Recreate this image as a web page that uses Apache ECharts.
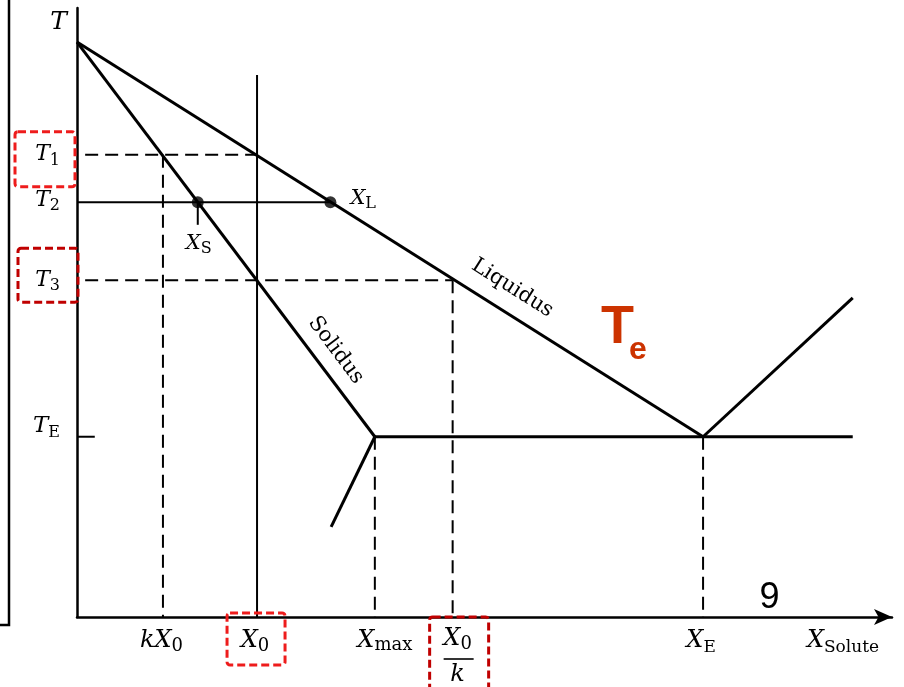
<!DOCTYPE html>
<html>
<head>
<meta charset="utf-8">
<script src="https://cdn.jsdelivr.net/npm/echarts@6/dist/echarts.min.js"></script>
<style>
  html, body { margin: 0; padding: 0; background: #ffffff; }
  #chart { width: 904px; height: 687px; }
</style>
</head>
<body>
<div id="chart"></div>
<script>
// Binary eutectic phase diagram: temperature vs. solute concentration (arbitrary units).

// Marked compositions on the X axis
const compNames = ['kX0', 'X0', 'Xmax', 'X0/k', 'XE'];
const compValues = [11.6, 24.3, 40.2, 50.7, 84.5];
// Marked temperatures on the T axis
const tempNames = ['T1', 'T2', 'T3', 'TE'];
const tempValues = [75.9, 68.1, 55.3, 29.6];
// Melting point of the pure solvent
const meltingPoint = [94.4];
// Liquid and solid compositions on the tie line at T2
const tieCompositions = [16.3, 34.2];
// Right-hand end of the diagram: composition, liquidus temperature there
const rightEnd = [104.7, 52.4];
// Lower end of the solvus below Xmax
const solvusEnd = [34.3, 14.8];
// Top of the alloy (X0) line, bottom of the XS marker, length of the TE tick, start of guides
const alloyTop = [89.0];
const solidMarkBottom = [64.4];
const tickLength = [2.4];
const guideStart = [1.1];

const [kX0, X0, Xmax, X0k, XE] = compValues;
const [T1, T2, T3, TE] = tempValues;
const Tm = meltingPoint[0];
const [XS, XL] = tieCompositions;

const INK = '#000000';
const RED = '#ee1c1c';
const DARK_RED = '#c00000';
const TE_COLOR = '#cc3300';
const SERIF = '"DejaVu Serif", "Liberation Serif", serif';

function seg(data, width, dash) {
  return {
    type: 'line', data: data, symbol: 'none', silent: true, clip: false,
    lineStyle: { color: INK, width: width, type: dash ? [13, 7] : 'solid', cap: 'butt' },
    z: 3
  };
}

const chart = echarts.init(document.getElementById('chart'), null, { renderer: 'canvas' });

chart.setOption({
  animation: false,
  backgroundColor: '#ffffff',
  grid: { left: 77, right: 12, top: 8, bottom: 70, containLabel: false },
  xAxis: {
    type: 'value', min: 0, max: 110,
    axisLine: { show: true, onZero: false, symbol: ['none', 'arrow'], symbolSize: [12, 18],
      lineStyle: { color: INK, width: 2.5 } },
    axisTick: { show: false }, axisLabel: { show: false }, splitLine: { show: false }
  },
  yAxis: {
    type: 'value', min: 0, max: 100,
    axisLine: { show: true, onZero: false, lineStyle: { color: INK, width: 2.5 } },
    axisTick: { show: false }, axisLabel: { show: false }, splitLine: { show: false }
  },
  series: [
    // phase boundaries
    seg([[0, Tm], [XE, TE]], 3),                       // liquidus
    seg([[0, Tm], [Xmax, TE]], 3),                     // solidus
    seg([[Xmax, TE], [rightEnd[0], TE]], 3),           // eutectic isotherm
    seg([[XE, TE], rightEnd], 3),                      // liquidus of the second phase
    seg([[Xmax, TE], solvusEnd], 3),                   // solvus
    // alloy line, tie line and markers
    seg([[X0, 0], [X0, alloyTop[0]]], 2),
    seg([[0, T2], [XL, T2]], 2),
    seg([[XS, T2], [XS, solidMarkBottom[0]]], 2),
    seg([[0, TE], [tickLength[0], TE]], 2),
    // dashed guides
    seg([[guideStart[0], T1], [X0, T1]], 2, true),
    seg([[kX0, T1], [kX0, 0]], 2, true),
    seg([[guideStart[0], T3], [X0k, T3]], 2, true),
    seg([[X0k, T3], [X0k, 0]], 2, true),
    seg([[Xmax, TE], [Xmax, 0]], 2, true),
    seg([[XE, TE], [XE, 0]], 2, true),
    {
      type: 'scatter', silent: true, symbol: 'circle', symbolSize: 12,
      itemStyle: { color: INK }, z: 5,
      data: tieCompositions.map(x => [x, T2])
    }
  ]
});

// ---------- text and annotations ----------
const measureCtx = document.createElement('canvas').getContext('2d');
function textWidth(str, font) { measureCtx.font = font; return measureCtx.measureText(str).width; }
function px(x, y) { return chart.convertToPixel({ gridIndex: 0 }, [x, y]); }

// Italic symbol with an upright subscript; (ax, cy) = horizontal anchor and vertical middle
function mathLabel(ax, cy, main, sub, o) {
  o = o || {};
  const ms = o.size || 24;
  const ss = o.subSize || Math.round(ms * 0.72);
  const mf = 'italic ' + ms + 'px ' + SERIF;
  const sf = ss + 'px ' + SERIF;
  const mw = textWidth(main, mf);
  const sw = sub ? textWidth(sub, sf) : 0;
  const gap = sub ? (o.gap !== undefined ? o.gap : 0) : 0;
  const total = mw + gap + sw;
  const left = o.align === 'right' ? ax - total : o.align === 'left' ? ax : ax - total / 2;
  const els = [{
    type: 'text', x: left, y: cy, silent: true, z: 10,
    style: { text: main, font: mf, fill: INK, align: 'left', verticalAlign: 'middle' }
  }];
  if (sub) {
    const drop = o.drop !== undefined ? o.drop : 4;
    els.push({
      type: 'text', x: left + mw + gap, y: cy + 0.3 * ms - 0.3 * ss + drop, silent: true, z: 10,
      style: { text: sub, font: sf, fill: INK, align: 'left', verticalAlign: 'middle' }
    });
  }
  return els;
}

function dashedBox(x, y, w, h, color) {
  return {
    type: 'rect', silent: true, z: 12,
    shape: { x: x, y: y, width: w, height: h, r: 3 },
    style: { fill: 'none', stroke: color, lineWidth: 3, lineDash: [8, 4] }
  };
}

function rotatedLabel(p0, p1, t, offset, text) {
  const a = px(p0[0], p0[1]), b = px(p1[0], p1[1]);
  const dx = b[0] - a[0], dy = b[1] - a[1];
  const len = Math.hypot(dx, dy);
  const nx = dy / len, ny = -dx / len;   // normal pointing up-right
  const fx = a[0] + dx * t, fy = a[1] + dy * t;
  return {
    type: 'text', silent: true, z: 10,
    x: fx + nx * offset, y: fy + ny * offset,
    rotation: -Math.atan2(dy, dx),
    style: { text: text, font: '21px ' + SERIF, fill: INK, align: 'center', verticalAlign: 'middle' }
  };
}

function build() {
  const g = [];
  const axisY = px(0, 0)[1];
  const axisX = px(0, 0)[0];
  const labelY = axisY + 24;

  // frame fragment at the left edge
  g.push({
    type: 'polyline', silent: true, z: 10,
    shape: { points: [[9, 0], [9, 625], [0, 625]] },
    style: { stroke: INK, lineWidth: 2.5, fill: 'none' }
  });

  // temperature axis labels
  g.push(...mathLabel(axisX - 10, px(0, 100)[1] + 14, 'T', null, { size: 25, align: 'right' }));
  const tOffsets = [0, -2, 0, -11];
  const tSubs = ['1', '2', '3', 'E'];
  tempValues.forEach((t, i) => {
    const y = px(0, t)[1] + tOffsets[i];
    g.push(...mathLabel(axisX - 17, y, 'T', tSubs[i],
      { size: i === 3 ? 23 : 22, subSize: 16, align: 'right', drop: i === 3 ? 5 : 4 }));
  });

  // composition axis labels
  const xk = px(kX0, 0)[0], x0 = px(X0, 0)[0], xm = px(Xmax, 0)[0],
        xq = px(X0k, 0)[0], xe = px(XE, 0)[0];
  g.push(...mathLabel(xk - 1.5, labelY, 'kX', '0', { size: 24, subSize: 18 }));
  g.push(...mathLabel(x0 - 2, labelY, 'X', '0', { size: 24, subSize: 18 }));
  g.push(...mathLabel(xm + 10, labelY, 'X', 'max', { size: 24, subSize: 18, drop: 3 }));
  g.push(...mathLabel(xe - 2, labelY, 'X', 'E', { size: 24, subSize: 17 }));
  g.push(...mathLabel(px(110, 0)[0] - 49, labelY, 'X', 'Solute', { size: 24, subSize: 17, drop: 4 }));
  // X0 / k fraction
  g.push(...mathLabel(xq + 5, labelY - 2, 'X', '0', { size: 24, subSize: 18 }));
  g.push({
    type: 'line', silent: true, z: 10,
    shape: { x1: xq - 9, y1: axisY + 42, x2: xq + 21, y2: axisY + 42 },
    style: { stroke: INK, lineWidth: 1.6 }
  });
  g.push(...mathLabel(xq + 5, axisY + 58, 'k', null, { size: 24 }));

  // tie line annotations
  const pL = px(XL, T2), pS = px(XS, T2);
  g.push(...mathLabel(pL[0] + 20, pL[1] - 4, 'X', 'L', { size: 21, subSize: 16, align: 'left' }));
  g.push(...mathLabel(pS[0] + 1, pS[1] + 41, 'X', 'S', { size: 21, subSize: 16 }));

  // curve names along the boundaries
  g.push(rotatedLabel([0, Tm], [XE, TE], 0.675, 24, 'Liquidus'));
  g.push(rotatedLabel([0, Tm], [Xmax, TE], 0.813, 21, 'Solidus'));

  // highlight boxes
  const yT1 = px(0, T1)[1], yT3 = px(0, T3)[1];
  g.push(dashedBox(15, yT1 - 23, 60, 55, RED));
  g.push(dashedBox(18, yT3 - 32, 60, 54, DARK_RED));
  g.push(dashedBox(x0 - 30, axisY - 4, 58, 52, RED));
  g.push(dashedBox(xq - 23, axisY, 59, 90, DARK_RED));

  // eutectic temperature annotation
  g.push({
    type: 'text', silent: true, z: 10, x: 601, y: 328,
    style: { text: 'T', font: 'bold 54px "Liberation Sans", Arial, sans-serif', fill: TE_COLOR,
      align: 'left', verticalAlign: 'middle' }
  });
  g.push({
    type: 'text', silent: true, z: 10, x: 629, y: 350,
    style: { text: 'e', font: 'bold 32px "Liberation Sans", Arial, sans-serif', fill: TE_COLOR,
      align: 'left', verticalAlign: 'middle' }
  });

  // page number
  g.push({
    type: 'text', silent: true, z: 10, x: 769.5, y: 598,
    style: { text: '9', font: '36px "Liberation Sans", Arial, sans-serif', fill: INK,
      align: 'center', verticalAlign: 'middle' }
  });

  chart.setOption({ graphic: { elements: g } });
}

build();
</script>
</body>
</html>
